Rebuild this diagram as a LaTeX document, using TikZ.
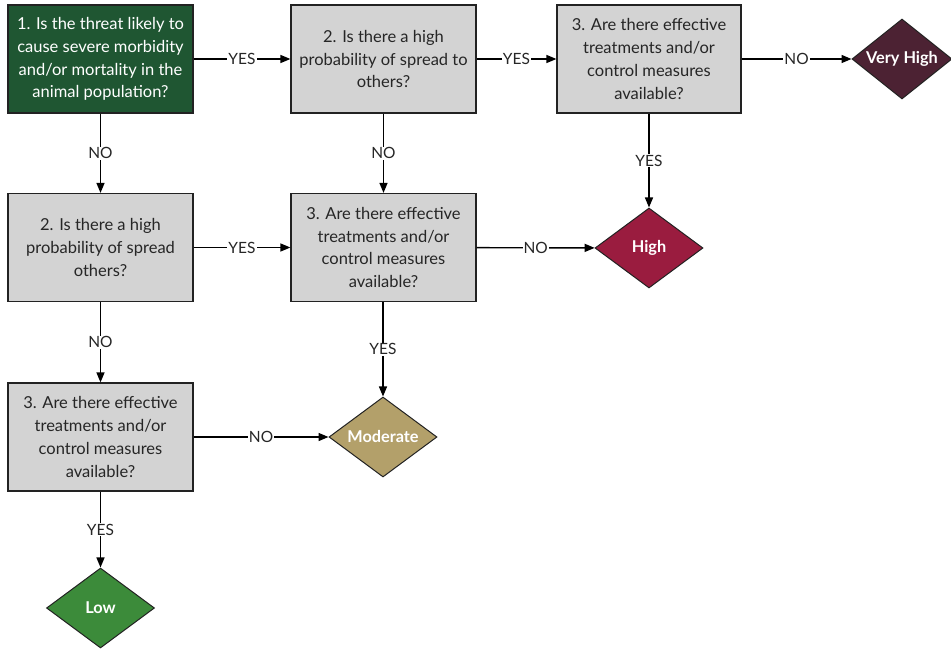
\documentclass[tikz,border=0pt]{standalone}
\usepackage{fontspec}
\setmainfont{Lato}
\usetikzlibrary{shapes.geometric,arrows.meta}
\definecolor{boxgreen}{HTML}{1F5632}
\definecolor{boxgray}{HTML}{D3D3D3}
\definecolor{vhigh}{HTML}{4C2233}
\definecolor{dhigh}{HTML}{9A1C3F}
\definecolor{dmod}{HTML}{B3A06A}
\definecolor{dlow}{HTML}{3C8B3A}
\definecolor{edgec}{HTML}{222222}
\tikzset{
  qbox/.style={draw=edgec, line width=1.2pt, fill=boxgray, minimum width=185pt, minimum height=108pt,
    align=center, inner sep=0pt, text=black!85, font=\fontsize{16.5}{22.7}\selectfont},
  gbox/.style={qbox, fill=boxgreen, text=white},
  dia/.style={diamond, draw=edgec, line width=1pt, inner sep=0pt, minimum width=108pt, minimum height=80pt},
  dlab/.style={text=white, font=\fontsize{16.3}{18}\selectfont\bfseries},
  conn/.style={draw=black, line width=1.4pt, -{Triangle[length=10pt,width=8pt]}},
  elab/.style={fill=white, inner sep=1pt, font=\fontsize{15.5}{16}\selectfont, text=black!85}
}
\begin{document}
\begin{tikzpicture}[x=1pt,y=-1pt]
\useasboundingbox (0,0) rectangle (951,650);
\node[gbox] (A) at (100.5,59) {1. Is the threat likely to\\cause severe morbidity\\and/or mortality in the\\animal population?};
\node[qbox] (B) at (383.5,59) {2. Is there a high\\probability of spread to\\others?};
\node[qbox, minimum width=184pt] (C) at (649,59) {3. Are there effective\\treatments and/or\\control measures\\available?};
\node[dia, fill=vhigh, minimum width=100pt, label={[dlab]center:Very High}] (VH) at (902,59) {};
\node[qbox] (D) at (100.5,247.5) {2. Is there a high\\probability of spread\\others?};
\node[qbox] (E) at (383.5,247.5) {3. Are there effective\\treatments and/or\\control measures\\available?};
\node[dia, fill=dhigh, label={[dlab]center:High}] (H) at (649,248) {};
\node[qbox] (F) at (100.5,437) {3. Are there effective\\treatments and/or\\control measures\\available?};
\node[dia, fill=dmod, label={[dlab]center:Moderate}] (M) at (383,437) {};
\node[dia, fill=dlow, label={[dlab]center:Low}] (L) at (100.5,608) {};

\draw[conn] (A) -- node[elab]{YES} (B);
\draw[conn] (B) -- node[elab]{YES} (C);
\draw[conn] (C) -- node[elab]{NO} (VH);
\draw[conn] (A) -- node[elab]{NO} (D);
\draw[conn] (B) -- node[elab]{NO} (E);
\draw[conn] (C) -- node[elab]{YES} (H);
\draw[conn] (D) -- node[elab]{YES} (E);
\draw[conn] (E) -- node[elab]{NO} (H);
\draw[conn] (D) -- node[elab]{NO} (F);
\draw[conn] (E.south -| M.north) -- node[elab]{YES} (M);
\draw[conn] (F) -- node[elab]{NO} (M);
\draw[conn] (F) -- node[elab]{YES} (L);
\end{tikzpicture}
\end{document}
